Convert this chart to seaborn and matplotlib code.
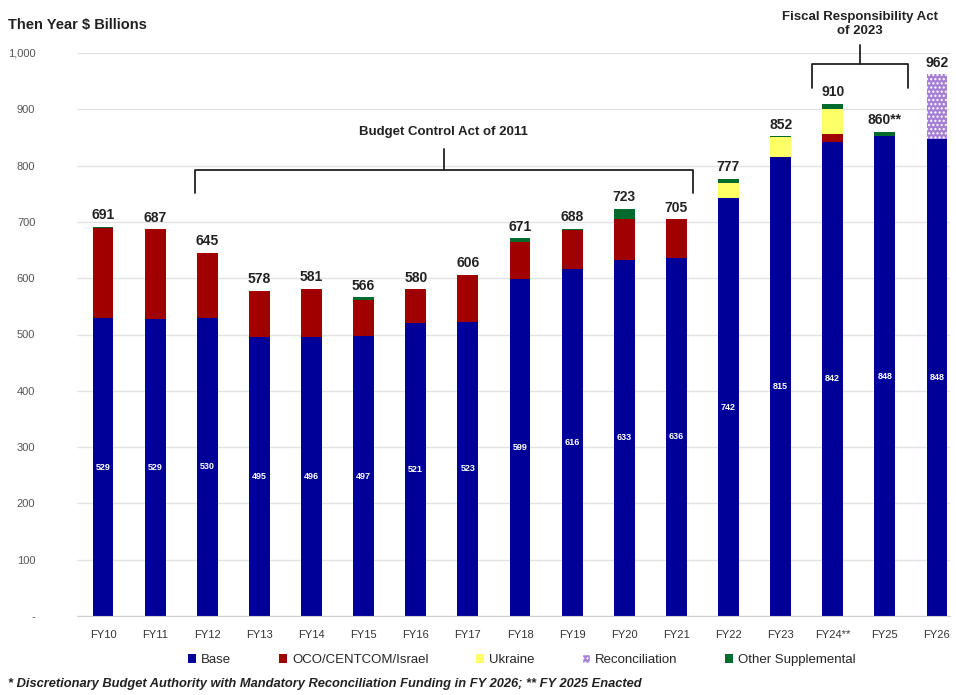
import matplotlib
matplotlib.use("Agg")
import matplotlib.pyplot as plt
import seaborn as sns
import numpy as np
import pandas as pd
from matplotlib.patches import Patch

sns.set_style("white")
plt.rcParams['font.family'] = ['Liberation Sans Narrow', 'Liberation Sans', 'DejaVu Sans']

years = ["FY10", "FY11", "FY12", "FY13", "FY14", "FY15", "FY16", "FY17", "FY18",
         "FY19", "FY20", "FY21", "FY22", "FY23", "FY24**", "FY25", "FY26"]
base = [529, 528, 530, 496, 496, 497, 521, 523, 599, 616, 633, 636, 742, 815, 842, 852, 848]
oco = [160, 159, 115, 82, 85, 64, 59, 83, 66, 70, 72, 69, 0, 0, 14, 0, 0]
ukraine = [0, 0, 0, 0, 0, 0, 0, 0, 0, 0, 0, 0, 27, 35, 44, 0, 0]
reconciliation = [0, 0, 0, 0, 0, 0, 0, 0, 0, 0, 0, 0, 0, 0, 0, 0, 114]
other = [2, 0, 0, 0, 0, 5, 0, 0, 6, 2, 18, 0, 8, 2, 10, 8, 0]
total_labels = ["691", "687", "645", "578", "581", "566", "580", "606", "671", "688",
                "723", "705", "777", "852", "910", "860**", "962"]
base_labels = ["529", "529", "530", "495", "496", "497", "521", "523", "599", "616",
               "633", "636", "742", "815", "842", "848", "848"]
series_names = ["Base", "OCO/CENTCOM/Israel", "Ukraine", "Reconciliation", "Other Supplemental"]
colors = ["#000099", "#A00000", "#FFFF66", "#A57FD6", "#006B2D"]

df = pd.DataFrame({"year": years, "Base": base, "OCO/CENTCOM/Israel": oco,
                   "Ukraine": ukraine, "Reconciliation": reconciliation,
                   "Other Supplemental": other})
cum = df[series_names].cumsum(axis=1)

fig = plt.figure(figsize=(9.56, 6.95), dpi=100)
ax = fig.add_axes([77/956, 1-616/695, (950-77)/956, (616-53)/695])

# draw cumulative layers from top to bottom
for i in range(len(series_names)-1, -1, -1):
    name = series_names[i]
    kw = {}
    if name == "Reconciliation":
        kw = dict(hatch="....", edgecolor="white")
    sns.barplot(x=df["year"], y=cum[name], color=colors[i], saturation=1,
                width=0.4, linewidth=0, ax=ax, order=years, **kw)

ax.set_xlim(-0.5, 16.25)
ax.set_ylim(0, 1000)
ax.set_yticks(range(0, 1001, 100))
ax.set_yticklabels(["-"] + [f"{v:,}" for v in range(100, 1001, 100)],
                   fontsize=8, color="#555555")
ax.yaxis.grid(True, color="#e3e3e3", linewidth=1)
ax.set_axisbelow(True)
ax.set_xlabel("")
ax.set_ylabel("")
ax.tick_params(axis="x", labelsize=8, colors="#333333", length=0, pad=10)
ax.tick_params(axis="y", length=0, pad=30)
for s in ["top", "right", "left"]:
    ax.spines[s].set_visible(False)
ax.spines["bottom"].set_color("#d0d0d0")

# labels
tops = cum["Other Supplemental"].values
for i in range(len(years)):
    ax.text(i, tops[i] + 8, total_labels[i], ha="center", va="bottom",
            fontsize=10, fontweight="bold", color="#222222")
    ax.text(i, base[i] / 2, base_labels[i], ha="center", va="center",
            fontsize=6.5, color="white", fontweight="bold")

def bracket(x0, x1, y, ylow, ytop, text, ty):
    xm = (x0 + x1) / 2
    ax.plot([x0, x0, x1, x1], [ylow, y, y, ylow], color="#222222", lw=1.3,
            clip_on=False, solid_joinstyle="round")
    ax.plot([xm, xm], [y, ytop], color="#222222", lw=1.3, clip_on=False)
    ax.text(xm, ty, text, ha="center", va="center", fontsize=9.5,
            fontweight="bold", color="#222222", clip_on=False, linespacing=1.2)

bracket(1.76, 11.32, 792, 752, 830, "Budget Control Act of 2011", 860)
bracket(13.61, 15.45, 980, 938, 1015, "Fiscal Responsibility Act\nof 2023", 1052)

fig.text(8/956, 1-25/695, "Then Year $ Billions", fontsize=10.5, fontweight="bold",
         color="#222222", va="center")

handles = []
for i, name in enumerate(series_names):
    if name == "Reconciliation":
        handles.append(Patch(facecolor=colors[i], hatch="....", edgecolor="white", label=name))
    else:
        handles.append(Patch(facecolor=colors[i], edgecolor="none", label=name))
fig.legend(handles=handles, loc="center", bbox_to_anchor=(522/956, 1-660/695),
           ncol=5, frameon=False, fontsize=9.5, handlelength=0.6, handleheight=0.6,
           columnspacing=3.6, handletextpad=0.4)

fig.text(8/956, 1-684/695,
         "* Discretionary Budget Authority with Mandatory Reconciliation Funding in FY 2026; ** FY 2025 Enacted",
         fontsize=9.3, fontstyle="italic", fontweight="bold", color="#222222", va="center")

fig.savefig("out.png", dpi=100)
